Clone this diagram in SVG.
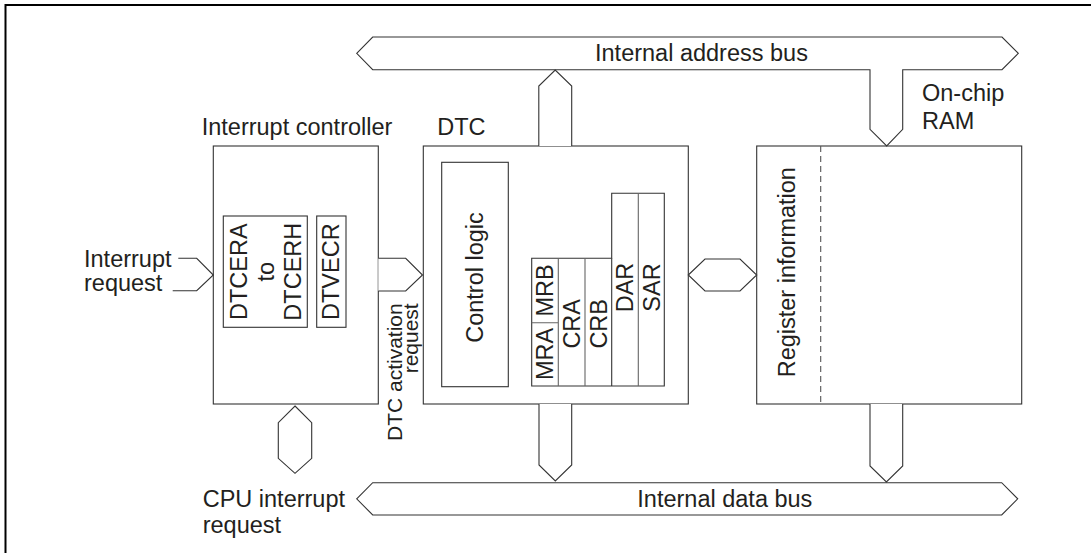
<svg xmlns="http://www.w3.org/2000/svg" width="1091" height="553" viewBox="0 0 1091 553">
<style>
.ln{fill:none;stroke:#333;stroke-width:1.1;stroke-linejoin:miter}
.bx{fill:#fff;stroke:#333;stroke-width:1.1}
.dv{fill:none;stroke:#666;stroke-width:1.1}
.ds{fill:none;stroke:#555;stroke-width:1.1;stroke-dasharray:6 4}
.t{font-family:"Liberation Sans",Arial,Helvetica,sans-serif;font-size:23.5px;fill:#231f20}
.ts{font-family:"Liberation Sans",Arial,Helvetica,sans-serif;font-size:21px;fill:#231f20}
.m{text-anchor:middle}
.e{text-anchor:end}
</style>
<rect width="1091" height="553" fill="#fff"/>
<g id="frame">
<path d="M5.5 553 V5 H1091" fill="none" stroke="#000" stroke-width="2"/>
</g>
<g id="interrupt-controller">
<rect class="bx" x="213.3" y="146" width="165" height="258"/>
<text class="t" x="201.7" y="135">Interrupt controller</text>
<rect class="bx" x="223.3" y="216" width="84" height="111.3"/>
<rect class="bx" x="316.7" y="216" width="29.3" height="111.3"/>
<text class="t m" transform="translate(247,271.7) rotate(-90)">DTCERA</text>
<text class="t m" transform="translate(273.5,271.7) rotate(-90)">to</text>
<text class="t m" transform="translate(300.8,271.7) rotate(-90)">DTCERH</text>
<text class="t m" transform="translate(338.5,271.7) rotate(-90)">DTVECR</text>
</g>
<g id="dtc">
<rect class="bx" x="423.3" y="146" width="265" height="258"/>
<text class="t" x="437.3" y="135">DTC</text>
<rect class="bx" x="441.7" y="162.3" width="66.6" height="224.4"/>
<text class="t m" transform="translate(483,277.5) rotate(-90)">Control logic</text>
<path class="ln" d="M531.7 386 V258.3 H611.7 V193.3 H664.3 V386 Z"/>
<path class="dv" d="M558.3 258.3 V386 M585 258.3 V386 M638.3 193.3 V386 M531.7 322.7 H558.3"/>
<path class="ln" d="M611.7 258.3 V386"/>
<text class="t m" transform="translate(552.5,354) rotate(-90)">MRA</text>
<text class="t m" transform="translate(552.5,290.5) rotate(-90)">MRB</text>
<text class="t m" transform="translate(580,323.8) rotate(-90)">CRA</text>
<text class="t m" transform="translate(606.7,323.8) rotate(-90)">CRB</text>
<text class="t m" transform="translate(633.4,287.5) rotate(-90)">DAR</text>
<text class="t m" transform="translate(659.7,287.5) rotate(-90)">SAR</text>
</g>
<g id="onchip-ram">
<rect class="bx" x="756.7" y="146" width="265" height="258"/>
<path class="ds" d="M820.7 146 V404"/>
<text class="t m" transform="translate(794.5,272.2) rotate(-90)">Register information</text>
<text class="t" x="922" y="101">On-chip</text>
<text class="t" x="922" y="128.5">RAM</text>
</g>
<g id="connectors">
<path class="bx" d="M356.7 53.3 L372.7 37 H1002 L1018.3 53.3 L1002 69.7 H902.7 V129.3 L886.7 146 L870 129.3 V69.7 H372.7 Z"/>
<text class="t" x="595" y="61">Internal address bus</text>
<path class="bx" d="M538.8 146 V86 L555.2 70 L571.7 86 V146"/>
<path class="bx" d="M356.7 498.8 L372.7 482.7 H1001.7 L1017.7 498.8 L1001.7 515 H372.7 Z"/>
<text class="t" x="637.3" y="506.7">Internal data bus</text>
<path class="bx" d="M539 404 V465 L555.3 481 L571.7 465 V404"/>
<path class="bx" d="M870 404 V466 L886.4 482 L902.7 466 V404"/>
<path class="bx" d="M295 406 L311.7 422.7 V458.3 L295 473.3 L278.3 458.3 V422.7 Z"/>
<text class="t" x="202.7" y="506.7">CPU interrupt</text>
<text class="t" x="202.7" y="533.3">request</text>
<path class="ln" d="M178.3 258.3 H196.7 L213.3 275 L196.7 290.7 H172.7"/>
<text class="t" x="84" y="266.7">Interrupt</text>
<text class="t" x="84" y="291">request</text>
<path class="bx" d="M378.3 258.3 H405.7 L422.5 275 L405.7 291 H378.3"/>
<text class="ts e" transform="translate(401.5,303.3) rotate(-90)">DTC activation</text>
<text class="ts e" transform="translate(418.3,303.3) rotate(-90)">request</text>
<path class="bx" d="M688.3 275 L705 259 H740 L756.7 275 L740 291 H705 Z"/>
</g>
</svg>
